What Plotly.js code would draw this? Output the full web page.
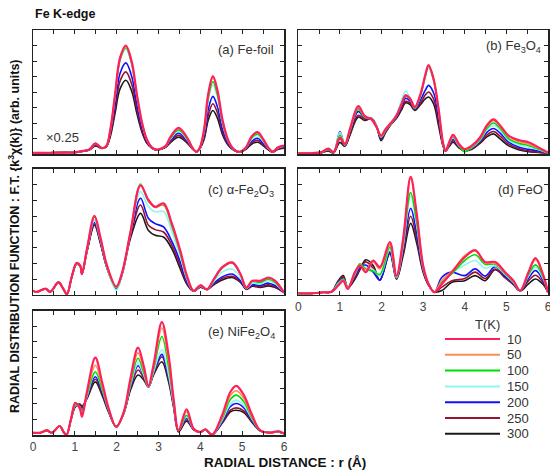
<!DOCTYPE html>
<html><head><meta charset="utf-8">
<script src="https://cdn.plot.ly/plotly-3.0.1.min.js"></script>
<style>html,body{margin:0;padding:0;background:#fff}#chart{width:550px;height:470px}</style>
</head><body><div id="chart"></div>
<script>
const temps = ['10','50','100','150','200','250','300'];
const colors = ['#ff1f5a','#ff8c50','#00dd00','#8ff5f5','#1010ff','#9a1030','#1a1a1a'];

// (a) Fe-foil
const rA = [0,0.4,0.8,1.0,1.2,1.35,1.49,1.65,1.75,1.85,1.96,2.08,2.22,2.36,2.48,2.6,2.72,2.84,2.96,3.08,3.18,3.28,3.48,3.68,3.83,3.91,3.99,4.09,4.19,4.30,4.41,4.53,4.67,4.81,4.95,5.09,5.23,5.37,5.5,5.62,5.73,5.86,6.0];
const a10  = [0.08,0.08,0.1,0.1,0.2, 0.3,0.69,0.39,0.5,1.6, 3.8,6.2,7.0,5.95,3.9, 2.1,0.95,0.43,0.28,0.37, 0.55,1.08,1.69,1.08,0.32, 0.15,0.43,1.6,3.9,5.02, 4.1,2.2,0.86,0.28,0.15, 0.43,1.15,1.41,0.97,0.43, 0.15,0.43,0.54];
const a50  = [0.08,0.08,0.1,0.1,0.2, 0.3,0.68,0.39,0.5,1.59, 3.76,6.14,6.93,5.89,3.86, 2.08,0.94,0.43,0.28,0.37, 0.54,1.06,1.65,1.06,0.32, 0.15,0.43,1.58,3.84,4.94, 4.04,2.17,0.85,0.28,0.15, 0.42,1.13,1.38,0.95,0.42, 0.15,0.42,0.53];
const a100 = [0.08,0.08,0.1,0.1,0.2, 0.3,0.67,0.39,0.5,1.57, 3.72,6.08,6.86,5.83,3.82, 2.06,0.93,0.43,0.28,0.37, 0.53,1.0,1.55,1.0,0.32, 0.15,0.42,1.5,3.63,4.67, 3.81,2.05,0.82,0.28,0.15, 0.41,1.06,1.3,0.9,0.4, 0.15,0.41,0.52];
const a150 = [0.08,0.08,0.1,0.1,0.2, 0.3,0.65,0.39,0.5,1.55, 3.67,5.98,6.75,5.74,3.76, 2.03,0.92,0.42,0.28,0.36, 0.52,0.95,1.48,0.95,0.31, 0.15,0.41,1.42,3.47,4.47, 3.65,1.96,0.78,0.27,0.15, 0.4,0.98,1.2,0.83,0.38, 0.15,0.4,0.5];
const a200 = [0.08,0.08,0.1,0.1,0.19, 0.29,0.6,0.38,0.48,1.38, 3.2,5.2,5.88,5.0,3.28, 1.77,0.82,0.4,0.27,0.35, 0.5,0.86,1.34,0.86,0.3, 0.14,0.39,1.2,2.9,3.72, 3.03,1.63,0.66,0.25,0.14, 0.36,0.83,1.02,0.7,0.33, 0.14,0.36,0.46];
const a250 = [0.08,0.08,0.1,0.1,0.19, 0.28,0.56,0.37,0.47,1.25, 2.9,4.7,5.3,4.5,2.95, 1.6,0.75,0.39,0.26,0.34, 0.47,0.78,1.2,0.78,0.29, 0.14,0.37,1.05,2.5,3.24, 2.65,1.42,0.6,0.24,0.13, 0.33,0.72,0.88,0.62,0.3, 0.13,0.33,0.42];
const a300 = [0.08,0.08,0.1,0.1,0.18, 0.26,0.52,0.36,0.45,1.15, 2.6,4.2,4.76,4.05,2.65, 1.45,0.7,0.38,0.26,0.33, 0.45,0.72,1.08,0.72,0.28, 0.13,0.35,0.95,2.2,2.81, 2.3,1.25,0.55,0.22,0.12, 0.3,0.65,0.76,0.55,0.28, 0.12,0.3,0.38];

// (b) Fe3O4
const rB = [0,0.3,0.55,0.72,0.85, 1.0,1.12,1.24,1.44,1.6, 1.76,1.88,1.99,2.1,2.24, 2.36,2.47,2.58,2.69,2.8, 2.94,3.05,3.13,3.25,3.37, 3.48,3.54,3.63,3.72,3.86, 3.99,4.17,4.37,4.53,4.69, 4.85,5.05,5.29,5.53,5.77, 6.0];
const b10  = [0.05,0.05,0.12,0.35,0.12, 1.05,0.65,1.6,3.09,2.44, 2.23,1.73,1.19,1.62,2.05, 2.5,3.13,3.78,3.57,3.03, 3.9,5.08,5.73,4.86,2.92, 0.7,0.2,0.8,1.23,0.65, 0.32,0.54,1.08,1.84,2.23, 1.84,1.19,0.9,0.76,0.43, 0.1];
const b50  = [0.05,0.05,0.12,0.33,0.12, 1.1,0.62,1.55,3.0,2.4, 2.25,1.75,1.15,1.6,2.02, 2.48,3.15,3.8,3.55,3.0, 3.85,5.05,5.7,4.83,2.9, 0.68,0.2,0.75,1.15,0.6, 0.3,0.5,1.03,1.76,2.15, 1.78,1.12,0.8,0.65,0.38, 0.09];
const b100 = [0.05,0.05,0.11,0.3,0.11, 1.2,0.6,1.5,2.9,2.35, 2.25,1.75,1.1,1.55,2.0, 2.45,3.15,3.75,3.5,2.95, 3.8,5.0,5.65,4.8,2.85, 0.65,0.18,0.72,1.1,0.55, 0.15,0.45,0.95,1.65,2.0, 1.65,1.0,0.7,0.55,0.32, 0.08];
const b150 = [0.05,0.05,0.11,0.3,0.12, 1.4,0.58,1.5,2.95,2.38, 2.28,1.78,1.1,1.55,2.0, 2.55,3.4,4.05,3.6,2.95, 3.75,4.9,5.5,4.7,2.8, 0.62,0.18,0.7,1.05,0.52, 0.25,0.42,0.9,1.55,1.85, 1.55,0.9,0.6,0.45,0.28, 0.07];
const b200 = [0.05,0.05,0.1,0.28,0.12, 1.45,0.55,1.4,2.75,2.3, 2.28,1.78,1.0,1.5,1.98, 2.4,3.0,3.6,3.4,2.9, 3.5,4.1,4.43,3.95,2.4, 0.6,0.18,0.62,0.95,0.48, 0.22,0.38,0.82,1.4,1.65, 1.35,0.78,0.45,0.3,0.2, 0.06];
const b250 = [0.05,0.05,0.09,0.24,0.1, 1.0,0.52,1.28,2.5,2.22, 2.3,1.8,0.95,1.45,1.96, 2.35,2.9,3.4,3.28,2.85, 3.3,3.8,4.0,3.55,2.1, 0.55,0.2,0.55,0.85,0.44, 0.21,0.34,0.75,1.22,1.45, 1.15,0.65,0.35,0.2,0.12, 0.05];
const b300 = [0.05,0.05,0.08,0.2,0.08, 0.75,0.5,1.2,2.38,2.16, 2.3,1.8,0.86,1.4,1.95, 2.3,2.8,3.3,3.18,2.81, 3.2,3.55,3.68,3.24,1.84, 0.5,0.2,0.5,0.76,0.4, 0.2,0.3,0.7,1.1,1.3, 0.97,0.54,0.28,0.15,0.1, 0.05];

// (c) alpha-Fe2O3
const rC = [0,0.1,0.3,0.41,0.61, 0.73,0.81,0.93,1.04,1.13, 1.17,1.29,1.47,1.61,1.77, 1.99,2.13,2.33,2.57,2.76, 2.92,3.12,3.32,3.52,3.68, 3.84,4.0,4.16,4.32,4.52, 4.76,4.96,5.1,5.24,5.43, 5.63,5.79,6.0];
const c10  = [0.26,0.2,0.4,0.2,0.8, 0.36,0.05,1.2,2.03,1.86, 1.33,2.93,5.03,3.68,1.86, 0.53,1.43,4.0,6.95,6.03, 5.6,5.82,4.53,2.82,1.22, 0.26,0.62,0.36,1.0,1.75, 2.07,1.33,0.47,0.9,0.9, 1.11,0.9,0.15];
const c50  = [0.26,0.2,0.4,0.2,0.8, 0.36,0.05,1.2,2.03,1.86, 1.33,2.9,5.0,3.65,1.85, 0.5,1.4,4.0,7.0,6.0, 5.55,5.75,4.45,2.75,1.18, 0.26,0.6,0.36,0.98,1.72, 2.05,1.3,0.45,0.88,0.88, 1.08,0.88,0.15];
const c100 = [0.26,0.2,0.4,0.2,0.8, 0.36,0.05,1.2,2.0,1.85, 1.33,2.9,4.95,3.6,1.8, 0.45,1.38,4.0,7.04,5.95, 5.6,5.71,4.35,2.65,1.1, 0.26,0.58,0.36,0.95,1.7, 2.03,1.3,0.45,0.85,0.8, 1.0,0.8,0.15];
const c150 = [0.26,0.2,0.4,0.2,0.8, 0.36,0.05,1.18,1.98,1.83, 1.33,2.85,4.75,3.5,1.75, 0.3,1.3,3.95,6.57,5.6, 5.28,5.3,4.0,2.45,1.0, 0.25,0.55,0.35,0.85,1.45, 1.65,1.1,0.42,0.75,0.7, 0.9,0.72,0.15];
const c200 = [0.26,0.2,0.4,0.2,0.8, 0.36,0.05,1.18,1.98,1.83, 1.33,2.8,4.6,3.4,1.75, 0.4,1.35,3.85,6.14,4.86, 4.53,4.32,3.4,2.1,0.85, 0.25,0.52,0.35,0.75,1.15, 1.33,0.9,0.4,0.65,0.6, 0.75,0.6,0.15];
const c250 = [0.26,0.2,0.4,0.2,0.8, 0.36,0.05,1.18,1.96,1.82, 1.33,2.78,4.5,3.35,1.72, 0.45,1.35,3.75,5.71,4.43, 4.15,4.0,3.15,1.85,0.75, 0.24,0.5,0.35,0.7,1.05, 1.18,0.85,0.38,0.6,0.52, 0.65,0.52,0.15];
const c300 = [0.26,0.2,0.4,0.2,0.8, 0.36,0.05,1.18,1.95,1.8, 1.33,2.75,4.43,3.3,1.7, 0.45,1.3,3.6,5.18,4.1, 3.79,3.68,2.93,1.65,0.68, 0.24,0.5,0.35,0.65,0.95, 1.11,0.8,0.36,0.55,0.48, 0.58,0.48,0.15];

// (d) FeO
const rD = [0,0.3,0.6,0.8,0.96, 1.08,1.19,1.36,1.48,1.62, 1.8,1.96,2.2,2.36,2.52, 2.7,2.84,3.0,3.13,3.27, 3.45,3.69,4.0,4.25,4.49, 4.73,4.97,5.17,5.33,5.53, 5.7,5.89,6.0];
const d10  = [0.1,0.1,0.17,0.2,0.6, 0.9,0.38,1.45,1.87,1.45, 2.19,1.77,3.36,1.23,3.57, 7.5,5.28,1.87,0.7,0.17, 0.7,1.45,2.4,2.83,2.09, 2.09,1.45,0.91,0.28,1.45, 2.34,1.23,0.17];
const d50  = [0.1,0.1,0.17,0.2,0.65, 0.95,0.45,1.4,1.9,1.6, 2.1,1.65,3.2,1.2,3.5, 7.4,5.2,1.85,0.72,0.17, 0.95,1.5,2.5,2.85,2.05, 2.0,1.4,0.88,0.28,1.4, 2.25,1.2,0.17];
const d100 = [0.1,0.1,0.17,0.2,0.7, 1.0,0.5,1.35,1.98,1.65, 1.5,1.3,3.04,1.15,3.3, 6.5,4.7,1.75,0.7,0.17, 0.8,1.35,2.19,2.55,1.95, 1.95,1.35,0.85,0.28,1.3, 1.91,1.1,0.17];
const d150 = [0.1,0.1,0.17,0.2,0.75, 1.0,0.55,1.3,1.85,1.75, 1.6,1.2,2.9,1.1,3.1, 6.3,4.5,1.7,0.7,0.17, 0.85,1.4,1.9,2.19,1.7, 1.85,1.3,0.8,0.28,1.2, 1.75,1.0,0.17];
const d200 = [0.1,0.1,0.17,0.2,0.8, 1.05,0.55,1.2,1.75,1.9, 1.45,0.95,2.75,1.1,2.9, 5.5,4.0,1.6,0.68,0.17, 1.13,1.45,1.23,1.66,1.2, 1.8,1.2,0.75,0.28,1.05, 1.55,0.9,0.17];
const d250 = [0.1,0.1,0.17,0.2,0.85, 1.15,0.5,1.1,1.65,2.1, 1.7,0.95,2.68,1.05,2.7, 5.0,3.65,1.5,0.65,0.18, 0.5,0.9,1.05,1.45,1.05, 1.65,1.1,0.7,0.27,0.9, 1.25,0.75,0.17];
const d300 = [0.1,0.1,0.17,0.2,0.9, 1.23,0.45,1.0,1.6,2.23, 1.87,0.92,2.62,1.0,2.5, 4.55,3.35,1.45,0.62,0.2, 0.28,0.81,0.91,1.23,0.91, 1.6,1.1,0.65,0.25,0.7, 1.02,0.65,0.17];

// (e) NiFe2O4
const rE = [0,0.18,0.33,0.45,0.64, 0.73,0.8,0.91,1.01,1.12, 1.17,1.29,1.49,1.65,1.81, 1.99,2.17,2.33,2.51,2.65, 2.76,2.88,3.08,3.24,3.36, 3.48,3.67,3.84,4.0,4.12, 4.28,4.52,4.72,4.86,5.04, 5.24,5.43,5.67,5.87,6.0];
const e10  = [0.15,0.15,0.3,0.15,0.58, 0.2,0.0,1.06,2.07,1.7, 1.17,2.79,4.99,3.43,1.7, 0.52,1.49,3.65,5.64,4.41, 3.17,4.51,7.28,5.16,2.35, 0.3,1.66,0.41,0.19,0.37, 0.02,1.27,2.79,3.17,2.57, 1.27,0.3,0.15,0.24,0.09];
const e50  = [0.15,0.15,0.3,0.15,0.58, 0.2,0.0,1.06,2.05,1.75, 1.3,2.7,4.5,3.2,1.65, 0.52,1.45,3.5,5.3,4.2, 3.15,4.35,6.9,4.8,2.25, 0.3,1.5,0.4,0.19,0.36, 0.02,1.15,2.55,2.85,2.35, 1.15,0.3,0.15,0.22,0.09];
const e100 = [0.15,0.15,0.3,0.15,0.58, 0.2,0.0,1.04,1.95,1.8, 1.4,2.6,4.08,3.0,1.6, 0.52,1.45,3.3,4.95,4.0, 3.15,4.2,6.35,4.4,2.15, 0.3,1.27,0.38,0.19,0.35, 0.02,1.05,2.3,2.57,2.15, 1.05,0.28,0.15,0.2,0.09];
const e150 = [0.15,0.15,0.3,0.15,0.58, 0.2,0.0,1.04,1.9,1.8, 1.45,2.5,4.0,2.95,1.6, 0.52,1.42,3.2,4.62,3.85, 3.12,4.05,5.49,3.9,2.0, 0.3,1.2,0.38,0.19,0.35, 0.02,0.95,2.0,2.25,1.9, 1.0,0.3,0.15,0.3,0.09];
const e200 = [0.15,0.15,0.3,0.15,0.58, 0.2,0.0,1.02,1.9,1.85, 1.6,2.45,3.76,2.8,1.55, 0.52,1.42,3.1,4.47,3.8, 3.12,4.0,5.2,3.75,1.95, 0.3,1.06,0.36,0.19,0.34, 0.02,0.85,1.85,2.03,1.75, 0.9,0.28,0.15,0.2,0.09];
const e250 = [0.15,0.15,0.3,0.15,0.58, 0.2,0.0,1.02,1.85,1.95, 1.75,2.4,3.6,2.7,1.5, 0.53,1.4,3.0,4.19,3.65, 3.1,3.95,5.05,3.6,1.9, 0.28,0.95,0.35,0.19,0.33, 0.02,0.8,1.6,1.75,1.55, 0.85,0.28,0.15,0.2,0.09];
const e300 = [0.15,0.15,0.3,0.15,0.58, 0.2,0.0,1.0,1.8,2.0, 1.85,2.35,3.43,2.57,1.45, 0.55,1.4,2.9,3.87,3.54, 3.1,3.87,4.73,3.43,1.8, 0.2,0.89,0.34,0.19,0.33, 0.02,0.75,1.5,1.6,1.45, 0.8,0.27,0.15,0.2,0.09];

const panels = [
  {r: rA, ys: [a10,a50,a100,a150,a200,a250,a300], xa: 'x',  ya: 'y'},
  {r: rB, ys: [b10,b50,b100,b150,b200,b250,b300], xa: 'x2', ya: 'y2'},
  {r: rC, ys: [c10,c50,c100,c150,c200,c250,c300], xa: 'x3', ya: 'y3'},
  {r: rD, ys: [d10,d50,d100,d150,d200,d250,d300], xa: 'x4', ya: 'y4'},
  {r: rE, ys: [e10,e50,e100,e150,e200,e250,e300], xa: 'x5', ya: 'y5'}
];

const traces = [];
panels.forEach((p, pi) => {
  for (let k = temps.length - 1; k >= 0; k--) {
    traces.push({
      x: p.r, y: p.ys[k], xaxis: p.xa, yaxis: p.ya,
      type: 'scatter', mode: 'lines',
      line: {color: colors[k], width: k === 0 ? 2.2 : 1.6, shape: 'spline', smoothing: 1},
      name: temps[k], showlegend: false, hoverinfo: 'skip'
    });
  }
});

const fontFam = 'Arial, "Liberation Sans", sans-serif';
function xax(domain, anchor, labels) {
  return {domain: domain, anchor: anchor, range: [0, 6], dtick: 1, tick0: 0,
    ticks: 'inside', ticklen: 4, tickwidth: 1, tickcolor: '#222',
    minor: {dtick: 0.5, ticks: 'inside', ticklen: 4, tickwidth: 1, tickcolor: '#222', showgrid: false},
    showline: true, linewidth: 1.5, linecolor: '#222', mirror: 'ticks',
    showgrid: false, zeroline: false, showticklabels: labels, ticklabeloverflow: 'allow',
    tickfont: {family: fontFam, size: 12, color: '#444'}};
}
function yax(domain, anchor) {
  return {domain: domain, anchor: anchor, range: [0, 8], dtick: 1,
    ticks: 'inside', ticklen: 4, tickwidth: 1, tickcolor: '#222',
    showline: true, linewidth: 1.5, linecolor: '#222', mirror: 'ticks',
    showgrid: false, zeroline: false, showticklabels: false};
}
const XL = [0, 0.4874], XR = [0.5151, 1];
const YT = [0.6938, 1], YM = [0.3457, 0.6568], YB = [0, 0.3062];

const lbl = {family: fontFam, size: 13, color: '#333'};
const bold = {family: fontFam, size: 12.5, color: '#111'};

// legend block (drawn as a key in paper coordinates)
const px = v => (v - 33) / 515, py = v => (435 - v) / 405;
const legShapes = [], legAnn = [];
temps.forEach((t, i) => {
  const yy = py(339 + i * 15.8);
  legShapes.push({type: 'line', xref: 'paper', yref: 'paper', x0: px(445), x1: px(500), y0: yy, y1: yy,
    line: {color: colors[i], width: i === 0 ? 2.2 : 2}});
  legAnn.push({text: t, xref: 'paper', yref: 'paper', x: px(505), y: yy, xanchor: 'left', yanchor: 'middle',
    showarrow: false, font: {family: fontFam, size: 13, color: '#333'}});
});
legAnn.push({text: 'T(K)', xref: 'paper', yref: 'paper', x: px(487), y: py(324), xanchor: 'center', yanchor: 'middle',
  showarrow: false, font: {family: fontFam, size: 13, color: '#333'}});

const layout = {
  width: 550, height: 470,
  margin: {l: 33, r: 2, t: 30, b: 35},
  paper_bgcolor: '#fff', plot_bgcolor: '#fff',
  showlegend: false,
  xaxis: xax(XL, 'y', false), yaxis: yax(YT, 'x'),
  xaxis2: xax(XR, 'y2', false), yaxis2: yax(YT, 'x2'),
  xaxis3: xax(XL, 'y3', false), yaxis3: yax(YM, 'x3'),
  xaxis4: xax(XR, 'y4', true), yaxis4: yax(YM, 'x4'),
  xaxis5: xax(XL, 'y5', true), yaxis5: yax(YB, 'x5'),
  shapes: legShapes,
  annotations: [
    {text: '<b>Fe K-edge</b>', xref: 'paper', yref: 'paper', x: 0, y: py(14), xanchor: 'left', yanchor: 'middle', showarrow: false, font: bold},
    {text: '<b>RADIAL DISTRIBUTION FUNCTION : F.T. {k<sup>3</sup>χ(k)} (arb. units)</b>', xref: 'paper', yref: 'paper', x: px(14), y: py(236), textangle: -90, xanchor: 'center', yanchor: 'middle', showarrow: false, font: {family: fontFam, size: 12.5, color: '#111'}},
    {text: '<b>RADIAL DISTANCE : r (Å)</b>', xref: 'paper', yref: 'paper', x: px(285), y: py(462), xanchor: 'center', yanchor: 'middle', showarrow: false, font: {family: fontFam, size: 13.5, color: '#111'}},
    {text: '(a) Fe-foil', xref: 'paper', yref: 'paper', x: px(276), y: py(49), xanchor: 'right', yanchor: 'middle', showarrow: false, font: lbl},
    {text: '(b) Fe<sub>3</sub>O<sub>4</sub>', xref: 'paper', yref: 'paper', x: px(543), y: py(47), xanchor: 'right', yanchor: 'middle', showarrow: false, font: lbl},
    {text: '(c) α-Fe<sub>2</sub>O<sub>3</sub>', xref: 'paper', yref: 'paper', x: px(276), y: py(191), xanchor: 'right', yanchor: 'middle', showarrow: false, font: lbl},
    {text: '(d) FeO', xref: 'paper', yref: 'paper', x: px(545), y: py(189), xanchor: 'right', yanchor: 'middle', showarrow: false, font: lbl},
    {text: '(e) NiFe<sub>2</sub>O<sub>4</sub>', xref: 'paper', yref: 'paper', x: px(277), y: py(332), xanchor: 'right', yanchor: 'middle', showarrow: false, font: lbl},
    {text: '×0.25', xref: 'paper', yref: 'paper', x: px(62), y: py(137), xanchor: 'center', yanchor: 'middle', showarrow: false, font: lbl}
  ].concat(legAnn)
};
Plotly.newPlot('chart', traces, layout, {staticPlot: true, displayModeBar: false});
</script>
</body></html>
